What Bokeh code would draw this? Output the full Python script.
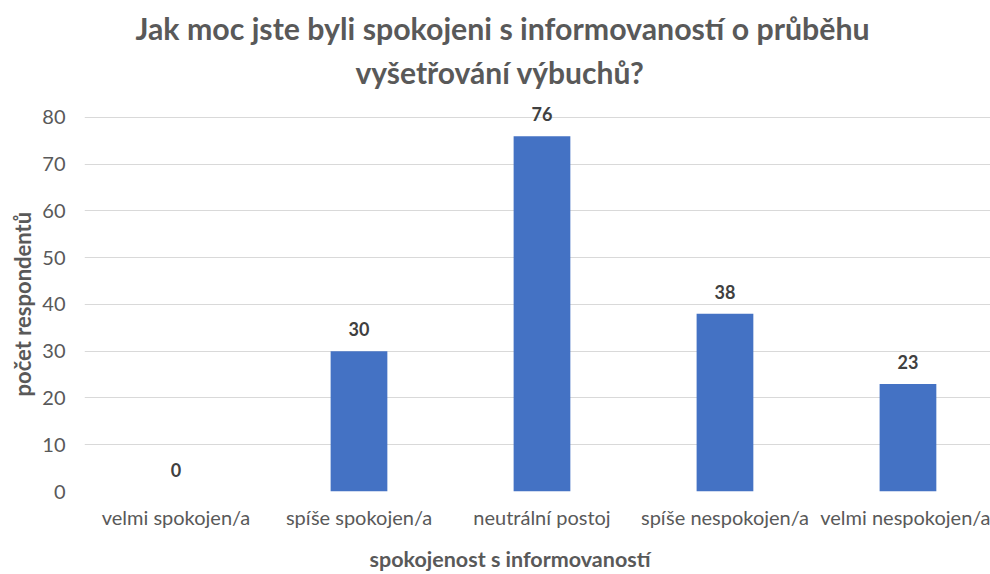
from bokeh.plotting import figure
from bokeh.models import Range1d, FixedTicker, Title, ColumnDataSource
from bokeh.core.properties import value
from bokeh.embed import file_html
from bokeh.resources import INLINE

categories = ["velmi spokojen/a", "spíše spokojen/a", "neutrální postoj",
              "spíše nespokojen/a", "velmi nespokojen/a"]
counts = [0, 30, 76, 38, 23]
y_ticks = [0, 10, 20, 30, 40, 50, 60, 70, 80]
title_lines = ["Jak moc jste byli spokojeni s informovaností o průběhu",
               "vyšetřování výbuchů?"]
x_label = "spokojenost s informovaností"
y_label = "počet respondentů"

FONT = "Lato"
GRAY = "#595959"

idx = list(range(len(categories)))
src = ColumnDataSource(dict(x=idx, y=counts, lbl=[str(v) for v in counts]))

p = figure(width=990, height=574, output_backend="svg", toolbar_location=None,
           x_range=Range1d(-0.5, 4.451), y_range=Range1d(0, 84.053),
           min_border_top=98, min_border_bottom=82, min_border_left=84,
           min_border_right=0, title=None)
p.outline_line_color = None
p.background_fill_color = "white"
p.border_fill_color = "white"

p.vbar(x="x", top="y", width=0.31, bottom=0, source=src,
       fill_color="#4472C4", line_color=None)

p.text(x="x", y="y", text="lbl", source=src, y_offset=-22,
       text_align="center", text_baseline="middle",
       text_font=value(FONT), text_font_size="18px", text_font_style="bold",
       text_color="#404040")

# axes
p.xaxis.ticker = FixedTicker(ticks=idx)
p.xaxis.major_label_overrides = {i: c for i, c in enumerate(categories)}
p.yaxis.ticker = FixedTicker(ticks=y_ticks)
for ax in (p.xaxis, p.yaxis):
    ax.axis_line_color = None
    ax.major_tick_line_color = None
    ax.minor_tick_line_color = None
    ax.major_tick_out = 0
    ax.major_tick_in = 0
    ax.minor_tick_out = 0
    ax.major_label_text_font = FONT
    ax.major_label_text_color = GRAY
p.xaxis.major_label_text_font_size = "20px"
p.yaxis.major_label_text_font_size = "20px"
p.xaxis.major_label_standoff = 13
p.yaxis.major_label_standoff = 19

p.xgrid.grid_line_color = None
p.ygrid.ticker = FixedTicker(ticks=y_ticks)
p.ygrid.grid_line_color = "#D9D9D9"
p.ygrid.grid_line_width = 1

# title lines (added bottom-most first)
p.add_layout(Title(text=title_lines[1], align="left", offset=271, standoff=15,
                   vertical_align="middle",
                   text_font=FONT, text_font_size="30px", text_font_style="bold",
                   text_color=GRAY), "above")
p.add_layout(Title(text=title_lines[0], align="left", offset=51, standoff=0,
                   text_font=FONT, text_font_size="30.3px", text_font_style="bold",
                   text_color=GRAY), "above")
# spacer between tick labels and x axis title
p.add_layout(Title(text=" ", standoff=0, text_font=FONT, text_font_size="6px"), "below")
# x axis title
p.add_layout(Title(text=x_label, align="left", offset=285, standoff=6,
                   text_font=FONT, text_font_size="21.5px", text_font_style="bold",
                   text_color=GRAY), "below")
# y axis title
p.add_layout(Title(text=y_label, align="left", offset=95, standoff=8,
                   text_font=FONT, text_font_size="22px", text_font_style="bold",
                   text_color=GRAY), "left")

open("out.html", "w").write(file_html(p, INLINE))
